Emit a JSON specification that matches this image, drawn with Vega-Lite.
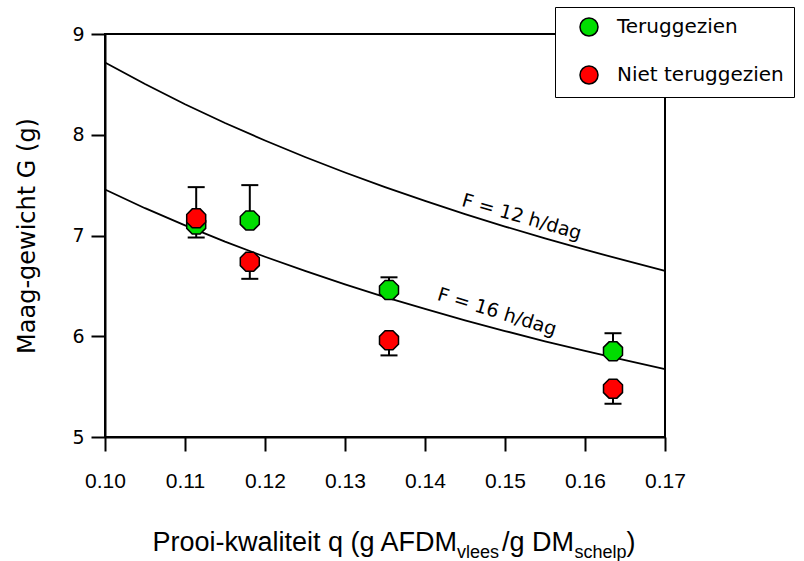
{
  "$schema": "https://vega.github.io/schema/vega-lite/v6.json",
  "width": 560,
  "height": 403,
  "autosize": {"type": "none"},
  "padding": {"left": 105, "top": 34, "right": 139, "bottom": 124},
  "background": "white",
  "config": {
    "view": {"stroke": "black", "strokeWidth": 2},
    "axis": {"grid": false, "domainColor": "black", "domainWidth": 2, "tickColor": "black", "tickWidth": 2, "tickSize": 14, "labelColor": "black", "titleColor": "black"}
  },
  "datasets": {
    "curves": [
      {"q": 0.100, "G": 8.717, "F": "12"}, {"q": 0.105, "G": 8.503, "F": "12"}, {"q": 0.110, "G": 8.303, "F": "12"},
      {"q": 0.115, "G": 8.117, "F": "12"}, {"q": 0.120, "G": 7.943, "F": "12"}, {"q": 0.125, "G": 7.779, "F": "12"},
      {"q": 0.130, "G": 7.625, "F": "12"}, {"q": 0.135, "G": 7.480, "F": "12"}, {"q": 0.140, "G": 7.343, "F": "12"},
      {"q": 0.145, "G": 7.212, "F": "12"}, {"q": 0.150, "G": 7.089, "F": "12"}, {"q": 0.155, "G": 6.971, "F": "12"},
      {"q": 0.160, "G": 6.859, "F": "12"}, {"q": 0.165, "G": 6.752, "F": "12"}, {"q": 0.170, "G": 6.650, "F": "12"},
      {"q": 0.100, "G": 7.457, "F": "16"}, {"q": 0.105, "G": 7.271, "F": "16"}, {"q": 0.110, "G": 7.100, "F": "16"},
      {"q": 0.115, "G": 6.939, "F": "16"}, {"q": 0.120, "G": 6.789, "F": "16"}, {"q": 0.125, "G": 6.648, "F": "16"},
      {"q": 0.130, "G": 6.515, "F": "16"}, {"q": 0.135, "G": 6.389, "F": "16"}, {"q": 0.140, "G": 6.271, "F": "16"},
      {"q": 0.145, "G": 6.158, "F": "16"}, {"q": 0.150, "G": 6.052, "F": "16"}, {"q": 0.155, "G": 5.950, "F": "16"},
      {"q": 0.160, "G": 5.854, "F": "16"}, {"q": 0.165, "G": 5.762, "F": "16"}, {"q": 0.170, "G": 5.674, "F": "16"}
    ],
    "punten": [
      {"q": 0.1114, "G": 7.11, "Gerr": 6.98, "groep": "Teruggezien"},
      {"q": 0.1181, "G": 7.15, "Gerr": 7.50, "groep": "Teruggezien"},
      {"q": 0.1355, "G": 6.46, "Gerr": 6.585, "groep": "Teruggezien"},
      {"q": 0.1635, "G": 5.85, "Gerr": 6.03, "groep": "Teruggezien"},
      {"q": 0.1114, "G": 7.17, "Gerr": 7.48, "groep": "Niet teruggezien"},
      {"q": 0.1181, "G": 6.74, "Gerr": 6.57, "groep": "Niet teruggezien"},
      {"q": 0.1355, "G": 5.96, "Gerr": 5.81, "groep": "Niet teruggezien"},
      {"q": 0.1635, "G": 5.48, "Gerr": 5.33, "groep": "Niet teruggezien"}
    ]
  },
  "layer": [
    {
      "data": {"name": "curves"},
      "mark": {"type": "line", "color": "black", "strokeWidth": 1.8},
      "encoding": {
        "x": {"field": "q", "type": "quantitative",
              "scale": {"domain": [0.10, 0.17], "zero": false, "nice": false},
              "axis": {"values": [0.10, 0.11, 0.12, 0.13, 0.14, 0.15, 0.16, 0.17], "format": ".2f", "title": null,
                       "labelFont": "Liberation Sans", "labelFontSize": 21, "labelPadding": 19, "labelFlush": false, "labelOverlap": false}},
        "y": {"field": "G", "type": "quantitative",
              "scale": {"domain": [5, 9], "zero": false, "nice": false},
              "axis": {"values": [5, 6, 7, 8, 9], "format": "d", "title": "Maag-gewicht G (g)",
                       "labelFont": "DejaVu Sans", "labelFontSize": 19, "labelPadding": 7, "labelFlush": false,
                       "titleFont": "DejaVu Sans", "titleFontSize": 24, "titleFontWeight": "normal", "titlePadding": 32}},
        "detail": {"field": "F"}
      }
    },
    {
      "data": {"values": [{}]},
      "mark": {"type": "text", "text": "F = 12 h/dag", "angle": 16, "align": "center", "baseline": "middle", "font": "DejaVu Sans", "fontSize": 19, "color": "black"},
      "encoding": {"x": {"datum": 0.1521, "type": "quantitative"}, "y": {"datum": 7.184, "type": "quantitative"}}
    },
    {
      "data": {"values": [{}]},
      "mark": {"type": "text", "text": "F = 16 h/dag", "angle": 17, "align": "center", "baseline": "middle", "font": "DejaVu Sans", "fontSize": 19, "color": "black"},
      "encoding": {"x": {"datum": 0.149, "type": "quantitative"}, "y": {"datum": 6.241, "type": "quantitative"}}
    },
    {
      "data": {"name": "punten"},
      "mark": {"type": "rule", "color": "black", "strokeWidth": 2},
      "encoding": {
        "x": {"field": "q", "type": "quantitative"},
        "y": {"field": "G", "type": "quantitative"},
        "y2": {"field": "Gerr"}
      }
    },
    {
      "data": {"name": "punten"},
      "mark": {"type": "point", "shape": "M-1,0L1,0", "size": 289, "filled": false, "stroke": "black", "strokeWidth": 2, "opacity": 1},
      "encoding": {
        "x": {"field": "q", "type": "quantitative"},
        "y": {"field": "Gerr", "type": "quantitative"}
      }
    },
    {
      "data": {"name": "punten"},
      "mark": {"type": "point", "filled": true, "shape": "M-0.414,-1L0.414,-1L1,-0.414L1,0.414L0.414,1L-0.414,1L-1,0.414L-1,-0.414Z", "size": 361, "stroke": "black", "strokeWidth": 1.5, "opacity": 1},
      "encoding": {
        "x": {"field": "q", "type": "quantitative"},
        "y": {"field": "G", "type": "quantitative"},
        "color": {"field": "groep", "type": "nominal",
                  "scale": {"domain": ["Teruggezien", "Niet teruggezien"], "range": ["#00DD00", "#FF0000"]},
                  "legend": {"title": null, "orient": "none", "legendX": 450, "legendY": -27,
                             "symbolType": "circle", "symbolSize": 324, "symbolStrokeColor": "black", "symbolStrokeWidth": 1.5,
                             "labelFont": "DejaVu Sans", "labelFontSize": 20, "labelColor": "black", "labelLimit": 400,
                             "padding": 10, "rowPadding": 24, "symbolOffset": 14, "labelOffset": 18,
                             "strokeColor": "black", "fillColor": "white",
                             "encode": {"legend": {"update": {"strokeWidth": {"value": 2}}}}}}
      }
    },
    {
      "data": {"values": [{}]},
      "mark": {"type": "text", "text": "Prooi-kwaliteit q (g AFDM", "align": "right", "baseline": "alphabetic", "font": "Liberation Sans", "fontSize": 27, "color": "black"},
      "encoding": {"x": {"datum": 0.1440, "type": "quantitative"}, "y": {"datum": 3.8685, "type": "quantitative"}}
    },
    {
      "data": {"values": [{}]},
      "mark": {"type": "text", "text": "vlees", "align": "left", "baseline": "alphabetic", "font": "Liberation Sans", "fontSize": 18, "color": "black"},
      "encoding": {"x": {"datum": 0.1440, "type": "quantitative"}, "y": {"datum": 3.80, "type": "quantitative"}}
    },
    {
      "data": {"values": [{}]},
      "mark": {"type": "text", "text": "/g DM", "align": "left", "baseline": "alphabetic", "font": "Liberation Sans", "fontSize": 27, "color": "black"},
      "encoding": {"x": {"datum": 0.14963, "type": "quantitative"}, "y": {"datum": 3.8685, "type": "quantitative"}}
    },
    {
      "data": {"values": [{}]},
      "mark": {"type": "text", "text": "schelp", "align": "left", "baseline": "alphabetic", "font": "Liberation Sans", "fontSize": 18, "color": "black"},
      "encoding": {"x": {"datum": 0.1587, "type": "quantitative"}, "y": {"datum": 3.80, "type": "quantitative"}}
    },
    {
      "data": {"values": [{}]},
      "mark": {"type": "text", "text": ")", "align": "left", "baseline": "alphabetic", "font": "Liberation Sans", "fontSize": 27, "color": "black"},
      "encoding": {"x": {"datum": 0.1652, "type": "quantitative"}, "y": {"datum": 3.8685, "type": "quantitative"}}
    }
  ]
}
